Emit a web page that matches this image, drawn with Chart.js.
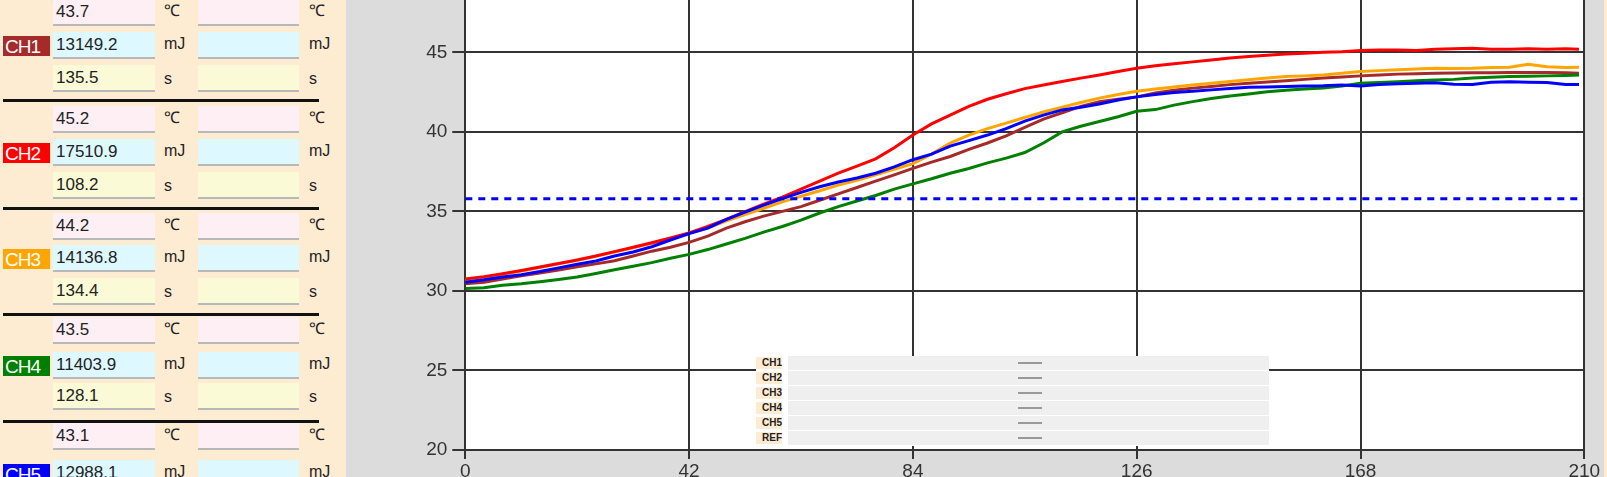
<!DOCTYPE html>
<html lang="en">
<head>
  <meta charset="UTF-8">
  <title>Temperature Chart</title>
  <script src="https://cdn.jsdelivr.net/npm/chart.js"></script>
  <style>
    body { margin: 0; width: 1607px; height: 477px; overflow: hidden; background: #fdebd2; font-family: 'Liberation Sans', Arial, sans-serif; position: relative; }
    .box { position: absolute; height: 27px; border-bottom: 2px solid #b8b8b8; box-sizing: border-box; font-size: 17px; color: #222; padding-left: 3px; line-height: 26px; }
    .unit { position: absolute; font-size: 16px; color: #222; }
    .chl { position: absolute; left: 3px; width: 47px; height: 20px; line-height: 21px; color: #fff; font-size: 19px; letter-spacing: -1px; padding-left: 2px; box-sizing: border-box; }
    .sep { position: absolute; left: 3px; width: 316px; height: 3px; background: #111; }
    #wrap { position: absolute; left: 346px; top: 0; width: 1258px; height: 477px; background: #dcdcdc; }
    #legend { position: absolute; left: 756px; top: 356px; width: 513px; background: #fff; }
    .lrow { position: relative; height: 15px; }
    .lname { position: absolute; left: 0; width: 26px; top: 1px; height: 12px; font-size: 10px; font-weight: bold; line-height: 12px; text-align: right; background: #fdebd2; color: #222; }
    .lbar { position: absolute; left: 32px; width: 481px; top: 0; height: 14px; background: #efefef; }
    .lline { position: absolute; left: 262px; width: 24px; top: 6px; height: 2px; background: #999; }
  </style>
</head>
<body>
  <div id="panel"></div>
  <div id="wrap"><canvas id="myChart" width="1258" height="477"></canvas></div>
  <div id="legend"></div>

  <script>
    // readings per channel
    const channels = ['CH1', 'CH2', 'CH3', 'CH4', 'CH5'];
    const channelColors = ['#a52a2a', '#ff0000', '#ffa500', '#008000', '#0000ff'];
    const peakTemps = ['43.7', '45.2', '44.2', '43.5', '43.1'];
    const energies = ['13149.2', '17510.9', '14136.8', '11403.9', '12988.1'];
    const reachTimes = ['135.5', '108.2', '134.4', '128.1', ''];

    // chart data (time in s, temperature in degC)
    const times = [0, 3.5, 7, 10.5, 14, 17.5, 21, 24.5, 28, 31.5, 35, 38.5, 42, 45.5, 49, 52.5, 56, 59.5, 63, 66.5,
      70, 73.5, 77, 80.5, 84, 87.5, 91, 94.5, 98, 101.5, 105, 108.5, 112, 115.5, 119, 122.5, 126, 129.5, 133, 136.5,
      140, 143.5, 147, 150.5, 154, 157.5, 161, 164.5, 168, 171.5, 175, 178.5, 182, 185.5, 189, 192.5, 196, 199.5, 203, 206.5, 209];
    const ch1 = [30.45, 30.55, 30.75, 30.95, 31.12, 31.32, 31.52, 31.7, 31.9, 32.2, 32.5, 32.75, 33.05, 33.45, 33.95, 34.35, 34.7, 35.0, 35.3, 35.7,
      36.1, 36.5, 36.9, 37.3, 37.7, 38.1, 38.45, 38.9, 39.3, 39.75, 40.28, 40.8, 41.2, 41.6, 41.9, 42.05, 42.2, 42.45, 42.62, 42.75,
      42.85, 42.97, 43.06, 43.14, 43.22, 43.3, 43.38, 43.45, 43.52, 43.58, 43.63, 43.66, 43.68, 43.7, 43.72, 43.72, 43.73, 43.73, 43.74, 43.72, 43.69];
    const ch2 = [30.75, 30.9, 31.08, 31.28, 31.5, 31.72, 31.95, 32.2, 32.47, 32.75, 33.03, 33.33, 33.65, 34.05, 34.5, 34.98, 35.45, 35.9, 36.4, 36.9,
      37.4, 37.85, 38.3, 39.0, 39.8, 40.5, 41.05, 41.6, 42.05, 42.4, 42.72, 42.95, 43.16, 43.38, 43.58, 43.8, 44.0, 44.15, 44.28, 44.4,
      44.52, 44.65, 44.74, 44.82, 44.9, 44.95, 45.0, 45.03, 45.12, 45.15, 45.15, 45.12, 45.2, 45.22, 45.26, 45.2, 45.2, 45.22, 45.2, 45.22, 45.2];
    const ch3 = [30.7, 30.85, 31.05, 31.25, 31.47, 31.7, 31.93, 32.18, 32.45, 32.72, 33.0, 33.3, 33.62, 33.95, 34.4, 34.8, 35.2, 35.6, 35.95, 36.3,
      36.65, 36.95, 37.3, 37.65, 38.0, 38.6, 39.3, 39.8, 40.2, 40.55, 40.9, 41.25, 41.55, 41.85, 42.12, 42.35, 42.55, 42.7, 42.82, 42.95,
      43.06, 43.17, 43.27, 43.38, 43.48, 43.52, 43.58, 43.68, 43.8, 43.85, 43.9, 43.95, 44.0, 43.98, 44.0, 44.05, 44.06, 44.25, 44.1, 44.05, 44.07];
    const ch4 = [30.15, 30.2, 30.35, 30.45, 30.58, 30.72, 30.88, 31.1, 31.33, 31.55, 31.78, 32.05, 32.3, 32.6, 32.95, 33.3, 33.7, 34.05, 34.45, 34.9,
      35.3, 35.65, 36.0, 36.4, 36.73, 37.05, 37.4, 37.7, 38.05, 38.35, 38.7, 39.3, 40.0, 40.35, 40.65, 40.95, 41.3, 41.4, 41.68, 41.9,
      42.1, 42.25, 42.38, 42.52, 42.62, 42.7, 42.75, 42.88, 43.05, 43.1, 43.15, 43.22, 43.26, 43.3, 43.38, 43.44, 43.48, 43.5, 43.52, 43.55, 43.58];
    const ch5 = [30.55, 30.7, 30.88, 31.02, 31.22, 31.45, 31.68, 31.88, 32.2, 32.45, 32.78, 33.2, 33.6, 33.95, 34.5, 34.95, 35.4, 35.8, 36.2, 36.55,
      36.85, 37.1, 37.4, 37.8, 38.25, 38.6, 39.1, 39.45, 39.8, 40.2, 40.68, 41.05, 41.38, 41.55, 41.75, 42.0, 42.2, 42.35, 42.47, 42.55,
      42.64, 42.72, 42.8, 42.82, 42.85, 42.88, 42.9, 42.95, 42.88, 42.98, 43.02, 43.05, 43.08, 43.0, 42.98, 43.12, 43.15, 43.12, 43.1, 42.98, 42.97];
    const refTimes = [0, 210];
    const refValues = [35.8, 35.8];
    const legendNames = ['CH1', 'CH2', 'CH3', 'CH4', 'CH5', 'REF'];

    const xTicks = [0, 42, 84, 126, 168, 210];
    const yTicks = [20, 25, 30, 35, 40, 45];

    // left panel layout (measured from the screen)
    const pinkTop = [-1, 106, 213, 317, 423];
    const cyanTop = [32, 139, 245, 352, 460];
    const yellowTop = [65, 172, 278, 383, 493];
    const sepTop = [99, 207, 313, 420];

    function buildPanel() {
      const panel = document.getElementById('panel');
      let html = '';
      const rows = [
        { tops: pinkTop, color: '#fdeff4', unit: '℃', vals: peakTemps, dy: -4 },
        { tops: cyanTop, color: '#ddf9ff', unit: 'mJ', vals: energies, dy: -1 },
        { tops: yellowTop, color: '#fafad6', unit: 's', vals: reachTimes, dy: 1 }
      ];
      for (let i = 0; i < channels.length; i++) {
        rows.forEach(r => {
          const top = r.tops[i];
          html += `<div class="box" style="left:53px;width:102px;top:${top}px;background:${r.color}">${r.vals[i]}</div>`;
          html += `<div class="box" style="left:198px;width:101px;top:${top}px;background:${r.color}"></div>`;
          html += `<div class="unit" style="left:164px;top:${top + 4 + r.dy}px">${r.unit}</div>`;
          html += `<div class="unit" style="left:309px;top:${top + 4 + r.dy}px">${r.unit}</div>`;
        });
        html += `<div class="chl" style="top:${cyanTop[i] + 4}px;background:${channelColors[i]}">${channels[i]}</div>`;
        if (i < sepTop.length) html += `<div class="sep" style="top:${sepTop[i]}px"></div>`;
      }
      panel.innerHTML = html;
    }

    function buildLegend() {
      const lg = document.getElementById('legend');
      lg.innerHTML = legendNames.map(n =>
        `<div class="lrow"><div class="lname">${n}</div><div class="lbar"></div><div class="lline"></div></div>`
      ).join('');
    }

    function toPoints(xs, ys) {
      return xs.map((x, i) => ({ x: x, y: ys[i] }));
    }

    const plotBg = {
      id: 'plotBg',
      beforeDraw(chart) {
        const { ctx, chartArea } = chart;
        ctx.save();
        ctx.fillStyle = '#ffffff';
        ctx.fillRect(chartArea.left, chartArea.top, chartArea.right - chartArea.left, chartArea.bottom - chartArea.top);
        ctx.restore();
      }
    };

    // drop the label padding chart.js adds, so the plot starts at the top edge
    function noPad(s) {
      s.paddingTop = 0;
      s.paddingBottom = 0;
      s.paddingLeft = 0;
      s.paddingRight = 0;
    }

    function renderChart() {
      const series = [ch1, ch2, ch3, ch4, ch5];
      const drawOrder = [5, 3, 4, 2, 1];
      const datasets = series.map((s, i) => ({
        label: channels[i],
        data: toPoints(times, s),
        borderColor: channelColors[i],
        borderWidth: 3,
        pointRadius: 0,
        tension: 0,
        order: drawOrder[i]
      }));
      datasets.push({
        label: 'REF',
        data: toPoints(refTimes, refValues),
        borderColor: '#0000ff',
        borderWidth: 3,
        borderDash: [7, 6],
        pointRadius: 0,
        order: 0
      });

      const tickFont = { family: "'Liberation Sans', Arial, sans-serif", size: 19 };
      const ctx = document.getElementById('myChart').getContext('2d');
      new Chart(ctx, {
        type: 'line',
        data: { datasets: datasets },
        options: {
          responsive: false,
          animation: false,
          layout: { padding: { left: 0, right: 19.7, top: 0, bottom: 0 } },
          plugins: { legend: { display: false }, tooltip: { enabled: false } },
          scales: {
            x: {
              type: 'linear',
              min: 0,
              max: 210,
              afterBuildTicks: s => { s.ticks = xTicks.map(v => ({ value: v })); },
              afterFit: s => { s.height = 27; noPad(s); },
              grid: { color: '#333', lineWidth: 2, tickLength: 9 },
              border: { color: '#333', width: 2 },
              ticks: { font: tickFont, color: '#333', padding: 1, maxRotation: 0, autoSkip: false }
            },
            y: {
              min: 20,
              max: 48.29,
              afterBuildTicks: s => { s.ticks = yTicks.map(v => ({ value: v })); },
              afterFit: s => { s.width = 119.3; noPad(s); },
              grid: { color: '#333', lineWidth: 2, tickLength: 13 },
              border: { color: '#333', width: 2 },
              ticks: { font: tickFont, color: '#333', padding: 5 }
            }
          }
        },
        plugins: [plotBg]
      });
    }

    buildPanel();
    buildLegend();
    renderChart();
  </script>
</body>
</html>
